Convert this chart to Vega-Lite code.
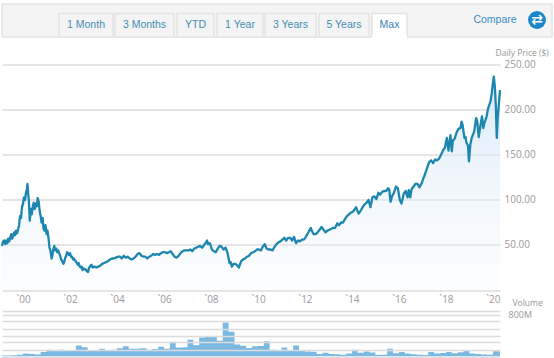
{"$schema":"https://vega.github.io/schema/vega-lite/v6.json","padding":{"left":0,"top":3,"right":0,"bottom":0},"background":"white","bounds":"flush","spacing":20.5,
"config":{"view":{"stroke":null},"axis":{"labelFont":"Open Sans","titleFont":"Open Sans","labelColor":"#999999","titleColor":"#999999","ticks":false,"domain":false,"gridColor":"#dcdcdc","gridWidth":1.5}},
"datasets":{
"tabs":[{"tab":"1 Month","a":1,"b":2,"m":1.5},{"tab":"3 Months","a":3,"b":4,"m":3.5},{"tab":"YTD","a":5,"b":6,"m":5.5},{"tab":"1 Year","a":7,"b":8,"m":7.5},{"tab":"3 Years","a":9,"b":10,"m":9.5},{"tab":"5 Years","a":11,"b":12,"m":11.5},{"tab":"Max","a":13,"b":14,"m":13.5}],
"price":[{"d":"1999-02-08","p":49},{"d":"1999-02-25","p":54},{"d":"1999-03-15","p":55},{"d":"1999-04-01","p":51},{"d":"1999-04-15","p":55},{"d":"1999-05-01","p":52},{"d":"1999-05-15","p":57},{"d":"1999-06-01","p":54},{"d":"1999-06-15","p":58},{"d":"1999-07-01","p":62},{"d":"1999-07-15","p":57},{"d":"1999-08-01","p":60},{"d":"1999-08-15","p":64},{"d":"1999-09-01","p":61},{"d":"1999-09-15","p":66},{"d":"1999-10-01","p":63},{"d":"1999-10-15","p":67},{"d":"1999-11-01","p":72},{"d":"1999-11-15","p":82},{"d":"1999-12-01","p":80},{"d":"1999-12-15","p":92},{"d":"2000-01-01","p":96},{"d":"2000-01-15","p":103},{"d":"2000-02-01","p":100},{"d":"2000-02-15","p":108},{"d":"2000-03-01","p":112},{"d":"2000-03-10","p":118},{"d":"2000-03-20","p":108},{"d":"2000-04-01","p":99},{"d":"2000-04-15","p":77},{"d":"2000-05-01","p":90},{"d":"2000-05-15","p":84},{"d":"2000-06-01","p":93},{"d":"2000-06-15","p":97},{"d":"2000-07-01","p":90},{"d":"2000-07-15","p":96},{"d":"2000-08-01","p":93},{"d":"2000-08-15","p":102},{"d":"2000-09-01","p":98},{"d":"2000-09-15","p":88},{"d":"2000-10-01","p":82},{"d":"2000-10-15","p":75},{"d":"2000-11-01","p":80},{"d":"2000-11-15","p":68},{"d":"2000-12-01","p":66},{"d":"2000-12-15","p":72},
{"d":"2001-01-01","p":62},{"d":"2001-01-15","p":66},{"d":"2001-02-01","p":57},{"d":"2001-02-15","p":47},{"d":"2001-03-01","p":44},{"d":"2001-03-20","p":35},{"d":"2001-04-01","p":38},{"d":"2001-04-15","p":45},{"d":"2001-05-01","p":49},{"d":"2001-05-15","p":44},{"d":"2001-06-01","p":46},{"d":"2001-06-15","p":42},{"d":"2001-07-01","p":44},{"d":"2001-07-15","p":41},{"d":"2001-08-01","p":38},{"d":"2001-08-15","p":34},{"d":"2001-09-01","p":32},{"d":"2001-09-20","p":29},{"d":"2001-10-01","p":31},{"d":"2001-10-15","p":35},{"d":"2001-11-01","p":38},{"d":"2001-11-15","p":42},{"d":"2001-12-01","p":41},{"d":"2001-12-15","p":39},
{"d":"2002-01-01","p":41},{"d":"2002-01-15","p":37},{"d":"2002-02-01","p":37},{"d":"2002-02-15","p":34},{"d":"2002-03-01","p":35},{"d":"2002-03-15","p":33},{"d":"2002-04-01","p":32},{"d":"2002-04-15","p":30},{"d":"2002-05-01","p":28},{"d":"2002-05-15","p":30},{"d":"2002-06-01","p":26},{"d":"2002-06-15","p":25},{"d":"2002-07-01","p":26},{"d":"2002-07-15","p":22},{"d":"2002-08-01","p":24},{"d":"2002-08-15","p":23},{"d":"2002-09-01","p":23},{"d":"2002-09-15","p":21},{"d":"2002-10-08","p":20},{"d":"2002-10-20","p":24},{"d":"2002-11-15","p":27},{"d":"2002-12-01","p":28},{"d":"2002-12-15","p":25},
{"d":"2003-01-15","p":26},{"d":"2003-02-15","p":25},{"d":"2003-03-15","p":26},{"d":"2003-04-15","p":27},{"d":"2003-05-15","p":29},{"d":"2003-06-15","p":30},{"d":"2003-07-15","p":31},{"d":"2003-08-15","p":32},{"d":"2003-09-15","p":34},{"d":"2003-10-15","p":35},{"d":"2003-11-15","p":35},{"d":"2003-12-15","p":36},
{"d":"2004-01-15","p":37},{"d":"2004-02-15","p":37},{"d":"2004-03-15","p":35},{"d":"2004-04-15","p":38},{"d":"2004-05-15","p":36},{"d":"2004-06-15","p":37},{"d":"2004-07-15","p":35},{"d":"2004-08-15","p":34},{"d":"2004-09-15","p":35},{"d":"2004-10-15","p":37},{"d":"2004-11-15","p":40},{"d":"2004-12-15","p":41},
{"d":"2005-01-15","p":38},{"d":"2005-02-15","p":37},{"d":"2005-03-15","p":37},{"d":"2005-04-15","p":35},{"d":"2005-05-15","p":37},{"d":"2005-06-15","p":38},{"d":"2005-07-15","p":40},{"d":"2005-08-15","p":39},{"d":"2005-09-15","p":40},{"d":"2005-10-15","p":39},{"d":"2005-11-15","p":41},{"d":"2005-12-15","p":42},
{"d":"2006-01-15","p":42},{"d":"2006-02-15","p":41},{"d":"2006-03-15","p":42},{"d":"2006-04-15","p":43},{"d":"2006-05-15","p":40},{"d":"2006-06-15","p":37},{"d":"2006-07-15","p":36},{"d":"2006-08-15","p":38},{"d":"2006-09-15","p":41},{"d":"2006-10-15","p":43},{"d":"2006-11-15","p":44},{"d":"2006-12-15","p":44},
{"d":"2007-01-15","p":44},{"d":"2007-02-15","p":45},{"d":"2007-03-15","p":43},{"d":"2007-04-15","p":46},{"d":"2007-05-15","p":47},{"d":"2007-06-15","p":48},{"d":"2007-07-15","p":49},{"d":"2007-08-15","p":47},{"d":"2007-09-15","p":50},{"d":"2007-10-15","p":53},{"d":"2007-11-01","p":55},{"d":"2007-11-15","p":51},{"d":"2007-12-15","p":52},
{"d":"2008-01-15","p":45},{"d":"2008-02-15","p":43},{"d":"2008-03-15","p":42},{"d":"2008-04-15","p":46},{"d":"2008-05-15","p":49},{"d":"2008-06-15","p":48},{"d":"2008-07-15","p":45},{"d":"2008-08-15","p":47},{"d":"2008-09-15","p":41},{"d":"2008-10-15","p":30},{"d":"2008-11-01","p":31},{"d":"2008-11-20","p":26},{"d":"2008-12-15","p":29},
{"d":"2009-01-15","p":29},{"d":"2009-02-15","p":27},{"d":"2009-03-09","p":25},{"d":"2009-04-15","p":32},{"d":"2009-05-15","p":34},{"d":"2009-06-15","p":35},{"d":"2009-07-15","p":37},{"d":"2009-08-15","p":38},{"d":"2009-09-15","p":41},{"d":"2009-10-15","p":42},{"d":"2009-11-15","p":43},{"d":"2009-12-15","p":45},
{"d":"2010-01-15","p":45},{"d":"2010-02-15","p":44},{"d":"2010-03-15","p":48},{"d":"2010-04-15","p":51},{"d":"2010-05-15","p":46},{"d":"2010-06-15","p":45},{"d":"2010-07-15","p":45},{"d":"2010-08-15","p":44},{"d":"2010-09-15","p":48},{"d":"2010-10-15","p":51},{"d":"2010-11-15","p":53},{"d":"2010-12-15","p":54},
{"d":"2011-01-15","p":56},{"d":"2011-02-15","p":58},{"d":"2011-03-15","p":55},{"d":"2011-04-15","p":58},{"d":"2011-05-15","p":58},{"d":"2011-06-15","p":55},{"d":"2011-07-15","p":59},{"d":"2011-08-15","p":52},{"d":"2011-09-15","p":55},{"d":"2011-10-15","p":54},{"d":"2011-11-15","p":56},{"d":"2011-12-15","p":56},
{"d":"2012-01-15","p":59},{"d":"2012-02-15","p":63},{"d":"2012-03-15","p":67},{"d":"2012-04-01","p":69},{"d":"2012-04-15","p":66},{"d":"2012-05-15","p":62},{"d":"2012-06-15","p":62},{"d":"2012-07-15","p":64},{"d":"2012-08-15","p":67},{"d":"2012-09-15","p":70},{"d":"2012-10-15","p":67},{"d":"2012-11-15","p":64},{"d":"2012-12-15","p":66},
{"d":"2013-01-15","p":67},{"d":"2013-02-15","p":68},{"d":"2013-03-15","p":69},{"d":"2013-04-15","p":69},{"d":"2013-05-15","p":74},{"d":"2013-06-15","p":72},{"d":"2013-07-15","p":75},{"d":"2013-08-15","p":75},{"d":"2013-09-15","p":79},{"d":"2013-10-15","p":82},{"d":"2013-11-15","p":84},{"d":"2013-12-15","p":86},
{"d":"2014-01-15","p":87},{"d":"2014-02-15","p":90},{"d":"2014-03-05","p":92},{"d":"2014-04-01","p":87},{"d":"2014-04-15","p":85},{"d":"2014-05-15","p":88},{"d":"2014-06-15","p":92},{"d":"2014-07-15","p":95},{"d":"2014-08-15","p":97},{"d":"2014-09-15","p":100},{"d":"2014-10-15","p":92},{"d":"2014-11-15","p":103},{"d":"2014-12-15","p":104},
{"d":"2015-01-15","p":101},{"d":"2015-02-15","p":108},{"d":"2015-03-15","p":106},{"d":"2015-04-15","p":109},{"d":"2015-05-15","p":110},{"d":"2015-06-15","p":110},{"d":"2015-07-15","p":113},{"d":"2015-08-01","p":112},{"d":"2015-08-24","p":98},{"d":"2015-09-15","p":104},{"d":"2015-10-15","p":108},{"d":"2015-11-15","p":115},{"d":"2015-12-15","p":113},
{"d":"2016-01-15","p":100},{"d":"2016-02-10","p":96},{"d":"2016-03-15","p":107},{"d":"2016-04-15","p":110},{"d":"2016-05-01","p":106},{"d":"2016-05-15","p":103},{"d":"2016-06-01","p":111},{"d":"2016-06-25","p":103},{"d":"2016-07-15","p":112},{"d":"2016-08-15","p":115},{"d":"2016-09-15","p":118},{"d":"2016-10-15","p":118},{"d":"2016-11-15","p":114},{"d":"2016-12-15","p":118},
{"d":"2017-01-15","p":124},{"d":"2017-02-15","p":130},{"d":"2017-03-15","p":136},{"d":"2017-04-15","p":142},{"d":"2017-05-15","p":144},{"d":"2017-06-15","p":141},{"d":"2017-07-15","p":145},{"d":"2017-08-15","p":144},{"d":"2017-09-15","p":146},{"d":"2017-10-15","p":150},{"d":"2017-11-15","p":155},{"d":"2017-12-15","p":158},
{"d":"2018-01-15","p":169},{"d":"2018-02-09","p":155},{"d":"2018-03-12","p":172},{"d":"2018-04-02","p":154},{"d":"2018-04-18","p":166},{"d":"2018-05-15","p":168},{"d":"2018-06-15","p":175},{"d":"2018-07-15","p":179},{"d":"2018-08-15","p":180},{"d":"2018-09-01","p":187},{"d":"2018-09-15","p":184},{"d":"2018-10-15","p":169},{"d":"2018-11-01","p":170},{"d":"2018-11-15","p":164},{"d":"2018-12-10","p":160},{"d":"2018-12-24","p":143},
{"d":"2019-01-15","p":162},{"d":"2019-02-05","p":169},{"d":"2019-03-15","p":176},{"d":"2019-04-15","p":191},{"d":"2019-05-01","p":188},{"d":"2019-05-25","p":170},{"d":"2019-06-15","p":180},{"d":"2019-07-15","p":193},{"d":"2019-08-05","p":180},{"d":"2019-08-20","p":185},{"d":"2019-09-25","p":193},{"d":"2019-10-15","p":201},{"d":"2019-11-25","p":210},{"d":"2019-12-15","p":219},{"d":"2019-12-25","p":226},{"d":"2020-01-15","p":237},{"d":"2020-02-01","p":225},{"d":"2020-02-15","p":205},{"d":"2020-03-01","p":169},{"d":"2020-03-15","p":191},{"d":"2020-04-01","p":205},{"d":"2020-04-20","p":222}],
"volume":[{"d":"1999-01-01","v":20},{"d":"1999-04-01","v":20},{"d":"1999-07-01","v":22},{"d":"1999-10-01","v":32},{"d":"2000-01-01","v":57},{"d":"2000-04-01","v":50},{"d":"2000-07-01","v":40},{"d":"2000-10-01","v":85},{"d":"2001-01-01","v":127},{"d":"2001-04-01","v":110},{"d":"2001-07-01","v":130},{"d":"2001-10-01","v":115},{"d":"2002-01-01","v":110},{"d":"2002-04-01","v":210},{"d":"2002-07-01","v":175},{"d":"2002-10-01","v":120},{"d":"2003-01-01","v":122},{"d":"2003-04-01","v":150},{"d":"2003-07-01","v":125},{"d":"2003-10-01","v":130},{"d":"2004-01-01","v":155},{"d":"2004-04-01","v":195},{"d":"2004-07-01","v":150},{"d":"2004-10-01","v":150},{"d":"2005-01-01","v":155},{"d":"2005-04-01","v":130},{"d":"2005-07-01","v":145},{"d":"2005-10-01","v":185},{"d":"2006-01-01","v":150},{"d":"2006-04-01","v":280},{"d":"2006-07-01","v":170},{"d":"2006-10-01","v":175},{"d":"2007-01-01","v":318},{"d":"2007-04-01","v":215},{"d":"2007-07-01","v":360},{"d":"2007-10-01","v":385},{"d":"2008-01-01","v":385},{"d":"2008-04-01","v":300},{"d":"2008-07-01","v":648},{"d":"2008-10-01","v":470},{"d":"2009-01-01","v":230},{"d":"2009-04-01","v":205},{"d":"2009-07-01","v":160},{"d":"2009-10-01","v":195},{"d":"2010-01-01","v":200},{"d":"2010-04-01","v":292},{"d":"2010-07-01","v":130},{"d":"2010-10-01","v":115},{"d":"2011-01-01","v":170},{"d":"2011-04-01","v":110},{"d":"2011-07-01","v":210},{"d":"2011-10-01","v":120},{"d":"2012-01-01","v":95},{"d":"2012-04-01","v":90},{"d":"2012-07-01","v":50},{"d":"2012-10-01","v":70},{"d":"2013-01-01","v":50},{"d":"2013-04-01","v":45},{"d":"2013-07-01","v":35},{"d":"2013-10-01","v":57},{"d":"2014-01-01","v":127},{"d":"2014-04-01","v":70},{"d":"2014-07-01","v":95},{"d":"2014-10-01","v":75},{"d":"2015-01-01","v":30},{"d":"2015-04-01","v":35},{"d":"2015-07-01","v":146},{"d":"2015-10-01","v":60},{"d":"2016-01-01","v":85},{"d":"2016-04-01","v":55},{"d":"2016-07-01","v":45},{"d":"2016-10-01","v":35},{"d":"2017-01-01","v":28},{"d":"2017-04-01","v":85},{"d":"2017-07-01","v":55},{"d":"2017-10-01","v":65},{"d":"2018-01-01","v":85},{"d":"2018-04-01","v":60},{"d":"2018-07-01","v":80},{"d":"2018-10-01","v":105},{"d":"2019-01-01","v":55},{"d":"2019-04-01","v":50},{"d":"2019-07-01","v":40},{"d":"2019-10-01","v":32},{"d":"2020-01-01","v":100},{"d":"2020-04-20","v":100}]
},
"vconcat":[
{"width":550,"height":33,"view":{"fill":"#f4f4f4","stroke":"#e4e4e4","strokeWidth":1.5},
"data":{"name":"tabs"},
"encoding":{},
"layer":[
{"mark":{"type":"bar","stroke":"#e2e2e2","strokeWidth":1.5},"encoding":{
"x":{"field":"a","type":"quantitative","scale":{"domain":[0,1,2,3,4,5,6,7,8,9,10,11,12,13,14,15,16],"range":[0,57,111,113,172,175,212,215,261,263,314,317,367,370,405,493,535]},"axis":null},
"x2":{"field":"b"},
"y":{"datum":25,"type":"quantitative","scale":{"domain":[0,33]},"axis":null},
"y2":{"datum":0},
"color":{"condition":{"test":"datum.tab==='Max'","value":"#ffffff"},"value":"#f4f4f4"}}},
{"transform":[{"filter":"datum.tab==='Max'"}],"mark":{"type":"bar","fill":"#ffffff","clip":false},"encoding":{
"x":{"field":"a","type":"quantitative","axis":null},"x2":{"field":"b"},
"y":{"datum":2,"type":"quantitative","axis":null},"y2":{"datum":-1}}},
{"mark":{"type":"text","font":"Liberation Sans","fontSize":10.5,"baseline":"middle"},"encoding":{
"x":{"field":"m","type":"quantitative","axis":null},
"y":{"datum":12.5,"type":"quantitative","axis":null},
"text":{"field":"tab"},
"color":{"condition":{"test":"datum.tab==='Max'","value":"#3b82ba"},"value":"#3f8db5"}}},
{"data":{"values":[{"t":"Compare"}]},"mark":{"type":"text","font":"Liberation Sans","fontSize":10.5,"baseline":"middle","color":"#3a8cc6"},"encoding":{
"x":{"datum":15,"type":"quantitative","axis":null},
"y":{"datum":18,"type":"quantitative","axis":null},
"text":{"field":"t"}}},
{"data":{"values":[{"t":"x"}]},"mark":{"type":"point","filled":true,"size":320,"color":"#1b86c8","opacity":1},"encoding":{
"x":{"datum":16,"type":"quantitative","axis":null},
"y":{"datum":18,"type":"quantitative","axis":null}}},
{"data":{"values":[{"t":"⇄"}]},"mark":{"type":"text","font":"DejaVu Sans","fontSize":14,"fontWeight":"bold","baseline":"middle","color":"#ffffff"},"encoding":{
"x":{"datum":16,"type":"quantitative","axis":null},
"y":{"datum":18,"type":"quantitative","axis":null},
"text":{"field":"t"}}}
]
},
{"width":498,"height":232.5,"data":{"name":"price"},
"encoding":{
"x":{"field":"d","type":"temporal","scale":{"domain":[{"year":1999,"month":2,"date":8},{"year":2020,"month":4,"date":20}]},"axis":{"values":[{"year":2000,"month":1,"date":1},{"year":2002,"month":1,"date":1},{"year":2004,"month":1,"date":1},{"year":2006,"month":1,"date":1},{"year":2008,"month":1,"date":1},{"year":2010,"month":1,"date":1},{"year":2012,"month":1,"date":1},{"year":2014,"month":1,"date":1},{"year":2016,"month":1,"date":1},{"year":2018,"month":1,"date":1},{"year":2020,"month":1,"date":1}],"labelExpr":"'`'+timeFormat(datum.value,'%y')","title":null,"grid":false,"labelFontSize":10,"labelPadding":4,"labelAngle":0,"labelFlush":false,"labelOverlap":false}},
"y":{"field":"p","type":"quantitative","scale":{"domain":[0,258.33],"nice":false},"axis":{"orient":"right","values":[0,50,100,150,200,250],"labelExpr":"datum.value==0?'':format(datum.value,'.2f')","labelFontSize":10,"labelPadding":4,"grid":true,"title":"Daily Price ($)","titleFontSize":8.5,"titleFontWeight":"normal","titleAngle":0,"titleAlign":"left","titleBaseline":"middle","titleX":-5,"titleY":-5.5}}
},
"layer":[
{"mark":{"type":"area","line":false,"color":{"gradient":"linear","x1":0,"x2":0,"y1":0,"y2":1,"stops":[{"offset":0,"color":"rgba(205,226,244,0.75)"},{"offset":1,"color":"rgba(240,247,253,0.2)"}]}}},
{"mark":{"type":"line","color":"#1c86ae","strokeWidth":2.3,"strokeJoin":"round"}}
]},
{"width":498,"height":45.5,"data":{"name":"volume"},
"mark":{"type":"area","interpolate":"step-after","color":"#7cb9e1","opacity":1,"clip":true},
"encoding":{
"x":{"field":"d","type":"temporal","scale":{"domain":[{"year":1999,"month":2,"date":8},{"year":2020,"month":4,"date":20}]},"axis":null},
"y":{"field":"v","type":"quantitative","scale":{"domain":[0,866.67],"nice":false},"axis":{"orient":"right","zindex":1,"values":[0,133.33,266.67,400,533.33,666.67,800,866.67],"labelExpr":"datum.value==800?'800M':''","labelFontSize":9,"labelPadding":8,"labelOverlap":false,"labelFlush":false,"grid":true,"title":"Volume","titleFontSize":8.5,"titleFontWeight":"normal","titleAngle":0,"titleAlign":"left","titleBaseline":"middle","titleX":12,"titleY":-9}}
}}
],
"resolve":{"scale":{"x":"independent","y":"independent"}}
}
